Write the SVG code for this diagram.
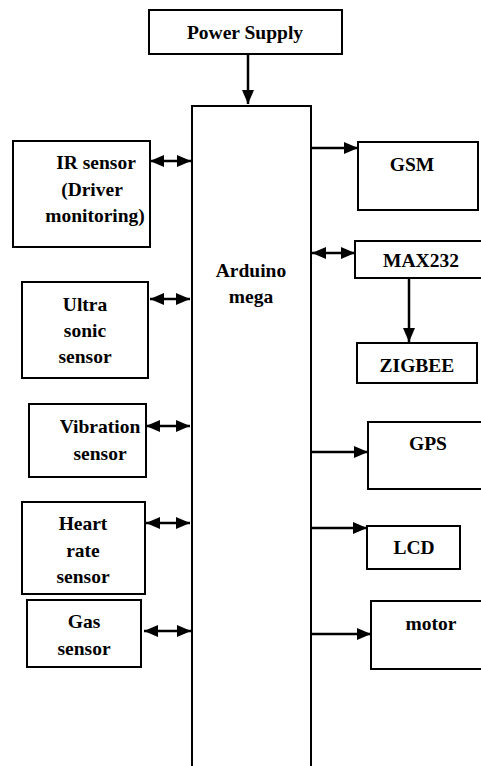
<svg xmlns="http://www.w3.org/2000/svg" width="481" height="766" viewBox="0 0 481 766">
<style>
.box{fill:#fff;stroke:#000;stroke-width:2}
text{font-family:'Liberation Serif','Times New Roman',Times,serif;font-weight:700;font-size:19.5px;fill:#000;text-anchor:middle}
.c{stroke:#000;stroke-width:2.5;fill:none}
.one{marker-end:url(#ah)}
.two{marker-start:url(#ah);marker-end:url(#ah)}
</style>
<defs>
<marker id="ah" viewBox="0 0 14 12" refX="14" refY="6" markerWidth="14" markerHeight="12" markerUnits="userSpaceOnUse" orient="auto-start-reverse">
<path d="M0,0 L14,6 L0,12 z" fill="#000"/>
</marker>
</defs>
<rect width="481" height="766" fill="#fff"/>
<g id="power"><rect class="box" x="149" y="10" width="193" height="44"/><text font-family="Liberation Serif, serif" x="245" y="39">Power Supply</text></g>
<g id="arduino"><rect class="box" x="192" y="106" width="119" height="700"/><text x="251" y="277">Arduino</text><text x="251" y="303">mega</text></g>
<g id="ir"><rect class="box" x="13" y="141" width="137" height="106"/><text x="96" y="169">IR sensor</text><text x="92" y="196">(Driver</text><text x="95" y="222">monitoring)</text></g>
<g id="ultra"><rect class="box" x="22" y="282" width="126" height="96"/><text x="85" y="311">Ultra</text><text x="85" y="337">sonic</text><text x="85" y="363">sensor</text></g>
<g id="vibration"><rect class="box" x="29" y="404" width="117" height="73"/><text x="100" y="433">Vibration</text><text x="100" y="460">sensor</text></g>
<g id="heart"><rect class="box" x="22" y="502" width="123" height="92"/><text x="83" y="530">Heart</text><text x="83" y="557">rate</text><text x="83" y="583">sensor</text></g>
<g id="gas"><rect class="box" x="27" y="600" width="114" height="67"/><text x="84" y="628">Gas</text><text x="84" y="655">sensor</text></g>
<g id="gsm"><rect class="box" x="358" y="142" width="120" height="68"/><text x="412" y="171">GSM</text></g>
<g id="max232"><rect class="box" x="355" y="241" width="130" height="37"/><text x="421" y="267">MAX232</text></g>
<g id="zigbee"><rect class="box" x="357" y="343" width="120" height="40"/><text x="417" y="372">ZIGBEE</text></g>
<g id="gps"><rect class="box" x="368" y="422" width="117" height="67"/><text x="428" y="450">GPS</text></g>
<g id="lcd"><rect class="box" x="367" y="526" width="93" height="43"/><text x="414" y="554">LCD</text></g>
<g id="motor"><rect class="box" x="371" y="601" width="114" height="68"/><text x="431" y="630">motor</text></g>
<g id="connectors">
<line class="c one" x1="248" y1="54" x2="248" y2="104"/>
<line class="c two" x1="150" y1="161" x2="191" y2="161"/>
<line class="c two" x1="150" y1="299" x2="190" y2="299"/>
<line class="c two" x1="146" y1="426" x2="190" y2="426"/>
<line class="c two" x1="146" y1="523" x2="190" y2="523"/>
<line class="c two" x1="144" y1="631" x2="191" y2="631"/>
<line class="c one" x1="311" y1="148" x2="358" y2="148"/>
<line class="c two" x1="312" y1="253" x2="355" y2="253"/>
<line class="c one" x1="409" y1="278" x2="409" y2="342"/>
<line class="c one" x1="311" y1="452" x2="368" y2="452"/>
<line class="c one" x1="311" y1="528" x2="367" y2="528"/>
<line class="c one" x1="311" y1="634" x2="371" y2="634"/>
</g>
</svg>
